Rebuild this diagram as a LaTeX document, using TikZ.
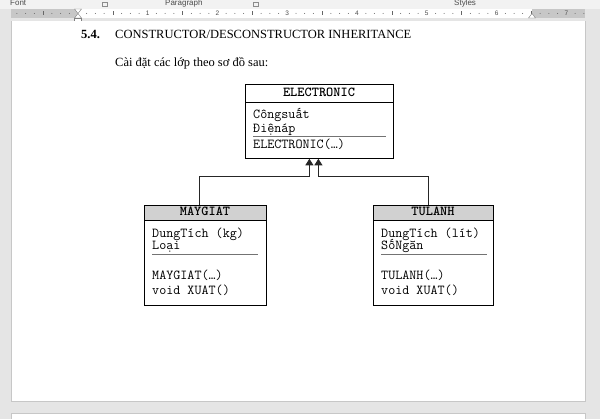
\documentclass[tikz,border=0pt]{standalone}
\usepackage{fontspec}
\setmainfont{Liberation Serif}
\newfontfamily\uif{Liberation Sans}
\usetikzlibrary{arrows.meta,calc}
\begin{document}
\begin{tikzpicture}[x=1pt,y=-1pt,
  classbox/.style={draw=black, line width=0.8pt, anchor=north west, inner sep=0pt},
  hdr/.style={font=\ttfamily\bfseries\fontsize{13.7}{15}\selectfont\addfontfeature{FakeBold=1.5}, anchor=base, inner sep=0pt},
  mem/.style={font=\ttfamily\fontsize{13.7}{15}\selectfont, anchor=base west, inner sep=0pt},
  sepline/.style={draw=black!55, line width=1pt},
  hdrline/.style={draw=black, line width=0.8pt},
  hdrfill/.style={fill=black!18},
  inh/.style={draw=black!85, line width=0.8pt, -{Triangle[width=8pt,length=6.5pt]}},
  body/.style={font=\fontsize{12.5}{15}\selectfont, anchor=base west, inner sep=0pt},
  uilabel/.style={font=\uif\fontsize{8}{9}\selectfont, text=black!70, anchor=base west, inner sep=0pt},
  rulernum/.style={font=\uif\fontsize{6.5}{7}\selectfont, text=black!70, inner sep=0pt},
]
\useasboundingbox (0,0) rectangle (600,419);
\clip (0,0) rectangle (600,419);
% window background
\fill[black!10] (0,0) rectangle (600,419);
\fill[black!5] (0,0) rectangle (600,9);
\node[uilabel] (lfont) at (10,6) {Font};
\node[uilabel] (lpara) at (165,6) {Paragraph};
\node[uilabel] (lsty) at (454,6) {Styles};
\draw[black!45] (102,2) rectangle (107,6.5);
\draw[black!45] (253,2) rectangle (258,6.5);
% ruler
\fill[black!22] (11,9) rectangle (585,18);
\fill[white] (78,9) rectangle (532,18);
\foreach \k in {-7,...,58}{
  \pgfmathsetmacro\xx{78+\k*8.72}
  \pgfmathtruncatemacro\m{mod(abs(\k),8)}
  \ifnum\m=0
    \ifnum\k>0 \node[rulernum] (r\k) at (\xx,13.5) {\the\numexpr\k/8\relax};\fi
  \else\ifnum\m=4
    \draw[black!60] (\xx,11.5) -- (\xx,15.5);
  \else
    \fill[black!60] (\xx,13.5) circle (0.5);
  \fi\fi
}
\draw[black!50, fill=white] (74.5,9) -- (81.5,9) -- (78,13.5) -- cycle;
\draw[black!50, fill=white] (74.5,18) -- (81.5,18) -- (78,13.5) -- cycle;
\draw[black!50, fill=white] (74.5,18) rectangle (81.5,21.5);
\draw[black!50, fill=white] (528.5,18) -- (535.5,18) -- (532,13.5) -- cycle;
% pages
\fill[white] (11,21.5) rectangle (585,401);
\draw[black!22] (11,21.5) -- (11,401) -- (585,401) -- (585,21.5);
\fill[white] (11,413) rectangle (585,419);
\draw[black!22] (11,419) -- (11,413) -- (585,413) -- (585,419);
% text
\node[body, font=\bfseries\fontsize{12.5}{15}\selectfont] (num) at (81,39) {5.4.};
\node[body] (title) at (115,39) {CONSTRUCTOR/DESCONSTRUCTOR INHERITANCE};
\node[body] (intro) at (115,67) {Cài đặt các lớp theo sơ đồ sau:};
% ELECTRONIC
\node[classbox, minimum width=148pt, minimum height=74pt] (elec) at (245,84) {};
\draw[hdrline] (245,102) -- (393,102);
\node[hdr] (elecH) at (319,97) {ELECTRONIC};
\node[mem] (e1) at (253,119) {Côngsuất};
\node[mem] (e2) at (253,133) {Điệnáp};
\draw[sepline] (253,137) -- (386,137);
\node[mem] (e3) at (253,149) {ELECTRONIC(…)};
% MAYGIAT
\fill[hdrfill] (144,205) rectangle (266,220);
\node[classbox, minimum width=122pt, minimum height=100pt] (may) at (144,205) {};
\draw[hdrline] (144,220) -- (266,220);
\node[hdr] (mayH) at (205,216) {MAYGIAT};
\node[mem] (m1) at (152,237.5) {DungTích (kg)};
\node[mem] (m2) at (152,250) {Loại};
\draw[sepline] (152,255) -- (258,255);
\node[mem] (m3) at (152,280) {MAYGIAT(…)};
\node[mem] (m4) at (152,295) {void XUAT()};
% TULANH
\fill[hdrfill] (373,205) rectangle (493,220);
\node[classbox, minimum width=120pt, minimum height=100pt] (tul) at (373,205) {};
\draw[hdrline] (373,220) -- (493,220);
\node[hdr] (tulH) at (433,216) {TULANH};
\node[mem] (t1) at (381,237.5) {DungTích (lít)};
\node[mem] (t2) at (381,250) {SốNgăn};
\draw[sepline] (381,255) -- (487,255);
\node[mem] (t3) at (381,280) {TULANH(…)};
\node[mem] (t4) at (381,295) {void XUAT()};
% connectors
\coordinate (ea) at ($(elec.south)+(-10,0)$);
\coordinate (eb) at ($(elec.south)+(-1,0)$);
\coordinate (ma) at ($(may.north)+(-6,0)$);
\coordinate (tb) at ($(tul.north)+(-5,0)$);
\draw[inh] (ma) -- ++(0,-29) -| (ea);
\draw[inh] (tb) -- ++(0,-29) -| (eb);
\end{tikzpicture}
\end{document}
